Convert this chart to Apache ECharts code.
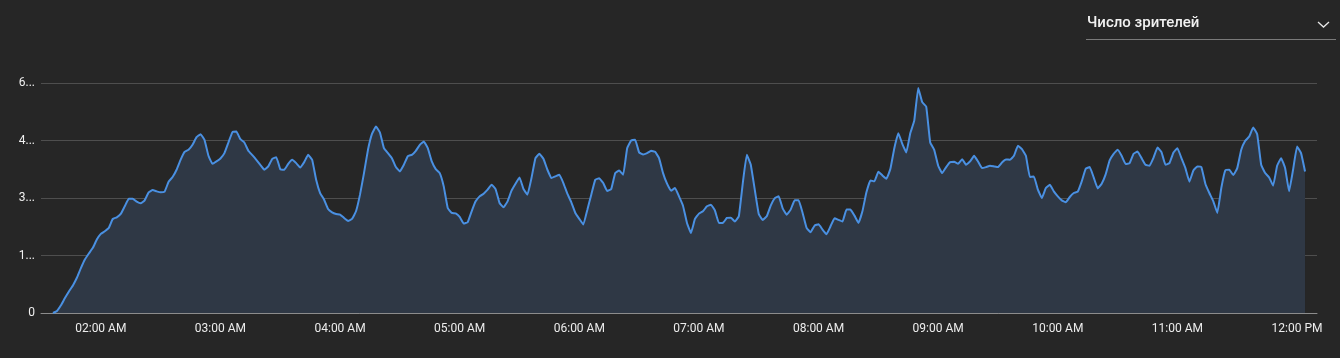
<!DOCTYPE html>
<html>
<head>
<meta charset="utf-8">
<script src="https://cdn.jsdelivr.net/npm/echarts@6/dist/echarts.min.js"></script>
<style>
html,body{margin:0;padding:0;background:#262626;}
#c{width:1340px;height:358px;}
</style>
</head>
<body>
<div id="c"></div>
<script>
// ---- data ----
var metricLabel = 'Число зрителей';
var startTime = [1, 36];      // 01:36
var stepMinutes = 2;
var axisStart = [1, 30];      // 01:30
var axisEnd = [12, 10];       // 12:10
var yTicks = [0, 1500, 3000, 4500, 6000];
var viewers = [
0, 52, 200, 390, 563, 720, 919, 1170, 1396, 1552,
1700, 1916, 2063, 2133, 2220, 2454, 2497, 2584, 2783, 2982,
2982, 2904, 2861, 2939, 3147, 3208, 3173, 3147, 3165, 3425,
3546, 3737, 3997, 4205, 4257, 4387, 4586, 4665, 4517, 4101,
3893, 3954, 4032, 4170, 4448, 4716, 4734, 4534, 4448, 4231,
4118, 3997, 3867, 3737, 3824, 4023, 4066, 3754, 3737, 3893,
3997, 3910, 3797, 3936, 4127, 3997, 3477, 3130, 2956, 2714,
2627, 2584,
2568, 2480, 2402, 2454, 2653, 3087, 3650, 4257, 4673, 4864,
4708, 4300, 4170, 4040, 3806, 3693, 3867, 4093, 4127, 4231,
4387, 4474, 4300, 3954, 3754, 3650, 3303, 2740, 2610, 2601,
2506, 2332, 2367, 2653, 2913, 3043, 3113, 3217, 3347, 3234,
2870, 2757, 2913, 3191, 3373, 3538, 3234, 3087, 3520, 4040,
4153, 4023, 3737, 3520, 3564, 3607, 3390, 3113, 2887, 2610,
2454, 2306, 2688, 3087, 3477, 3512,
3390, 3182, 3234, 3650, 3719, 3607, 4300, 4500, 4517, 4188,
4136, 4170, 4231, 4205, 4040, 3650, 3373, 3191, 3260, 3043,
2800, 2350, 2090, 2454, 2593, 2653, 2783, 2826, 2679, 2350,
2350, 2480, 2488, 2385, 2523, 3390, 4127, 3867, 3217, 2584,
2428, 2523, 2800, 2991, 3043, 2731, 2566, 2697, 2939, 2939,
2610, 2220, 2107, 2280, 2315, 2176, 2055, 2263, 2471, 2428,
2385, 2697, 2697, 2540, 2350,
2653, 3147, 3459, 3434, 3685, 3590, 3503, 3754, 4300, 4690,
4413, 4188, 4690, 5020, 5870, 5500, 5384, 4448, 4257, 3841,
3650, 3806, 3936, 3945, 3893, 4014, 3867, 3954, 4101, 3954,
3780, 3806, 3841, 3824, 3806, 3928, 4006, 3997, 4101, 4361,
4274, 4101, 3546, 3563, 3217, 3000, 3260, 3347, 3173, 3043,
2939, 2887, 3026, 3130, 3165,
3433, 3763, 3806, 3537, 3251, 3373, 3615, 3980, 4153, 4257,
4101, 3884, 3910, 4153, 4214, 4040, 3867, 3841, 4049, 4318,
4196, 3867, 3910, 4188, 4300, 4040, 3780, 3425, 3719, 3823,
3806, 3373, 3130, 2913, 2610, 3260, 3719, 3737, 3598, 3780,
4257, 4491, 4604, 4840, 4664, 3867, 3650, 3537, 3321, 3841,
4040, 3780, 3173, 3737, 4344, 4170, 3693
];

// ---- build ----
function t(h, m) { return new Date(2024, 0, 1, h, m, 0).getTime(); }
var t0 = t(startTime[0], startTime[1]);
var seriesData = viewers.map(function (v, i) { return [t0 + i * stepMinutes * 60000, v]; });

function fmtTime(val) {
  var d = new Date(val);
  var h = d.getHours(), m = d.getMinutes();
  var ap = h < 12 ? 'AM' : 'PM';
  var h12 = h % 12 === 0 ? 12 : h % 12;
  return (h12 < 10 ? '0' : '') + h12 + ':' + (m < 10 ? '0' : '') + m + ' ' + ap;
}

var chart = echarts.init(document.getElementById('c'), null, { renderer: 'canvas' });
chart.setOption({
  backgroundColor: '#262626',
  animation: false,
  textStyle: { fontFamily: 'Roboto, "Noto Sans", sans-serif' },
  grid: { left: 41, right: 23, top: 83, bottom: 45, containLabel: false },
  xAxis: {
    type: 'time',
    min: t(axisStart[0], axisStart[1]),
    max: t(axisEnd[0], axisEnd[1]),
    minInterval: 3600000,
    maxInterval: 3600000,
    axisLine: { show: true, lineStyle: { color: '#8c8c8c', width: 1 } },
    axisTick: { show: false },
    splitLine: { show: false },
    axisLabel: {
      color: '#ececec', fontSize: 12, margin: 10,
      showMinLabel: false, showMaxLabel: false,
      hideOverlap: false,
      formatter: function (v) { return fmtTime(v); }
    }
  },
  yAxis: {
    type: 'value',
    min: yTicks[0],
    max: yTicks[yTicks.length - 1],
    interval: yTicks[1] - yTicks[0],
    axisLine: { show: false },
    axisTick: { show: false },
    splitLine: { lineStyle: { color: '#4e4e4e', width: 1 } },
    axisLabel: {
      color: '#f0f0f0', fontSize: 12, margin: 6,
      formatter: function (v) { return v === 0 ? '0' : String(v).charAt(0) + '...'; }
    }
  },
  series: [{
    type: 'line',
    data: seriesData,
    showSymbol: false,
    symbol: 'none',
    smooth: 0.1,
    lineStyle: { color: '#4a90e2', width: 2 },
    areaStyle: { color: '#2f3845', opacity: 1 },
    z: 3
  }],
  graphic: [
    { type: 'text', x: 1087, y: 23,
      style: { text: metricLabel, fill: '#f2f2f2', verticalAlign: 'middle',
               font: '500 15px Roboto, "Noto Sans", sans-serif' } },
    { type: 'polyline', shape: { points: [[1318, 22], [1323.5, 27], [1329, 22]] },
      style: { stroke: '#e6e6e6', lineWidth: 1.3, fill: null } },
    { type: 'line', shape: { x1: 1086, y1: 39.5, x2: 1336, y2: 39.5 },
      style: { stroke: '#7a7a7a', lineWidth: 1 } }
  ]
});
</script>
</body>
</html>
